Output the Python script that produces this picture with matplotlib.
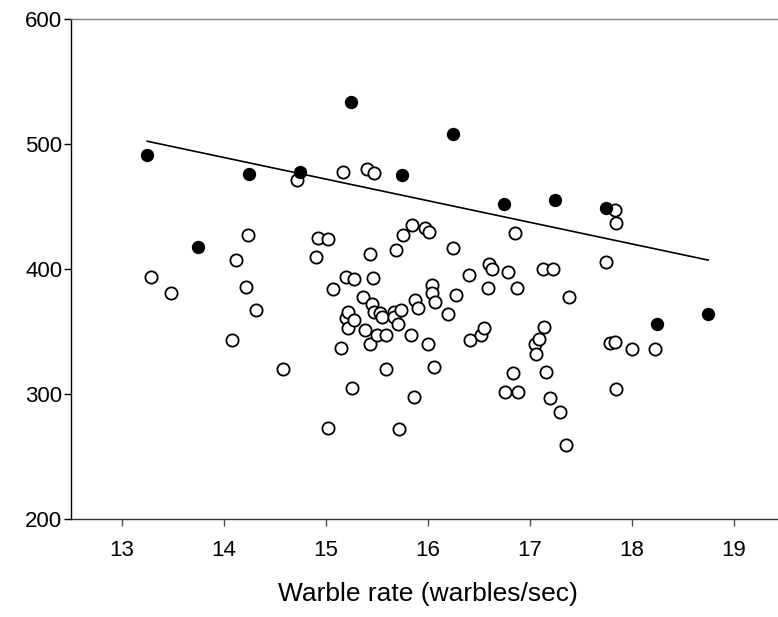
import numpy as np
import matplotlib
matplotlib.use("Agg")
import matplotlib.pyplot as plt

plt.rcParams['font.family'] = ['Liberation Sans', 'DejaVu Sans']

# filled circles (one per half-unit bin) - the regression is fitted on these
filled_x = [13.25, 13.75, 14.25, 14.75, 15.25, 15.75, 16.25, 16.75, 17.25, 17.75, 18.25, 18.75]
filled_y = [491, 418, 476, 478, 534, 475, 508, 452, 455, 449, 356, 364]

# open circles (individual songs)
open_x = [13.29, 13.48, 14.08, 14.12, 14.22, 14.24, 14.32, 14.58, 14.72, 14.90,
          14.92, 15.02, 15.02, 15.07, 15.15, 15.17, 15.20, 15.20, 15.22, 15.22,
          15.26, 15.28, 15.28, 15.37, 15.39, 15.40, 15.43, 15.43, 15.45, 15.46,
          15.47, 15.47, 15.50, 15.53, 15.55, 15.59, 15.59, 15.67, 15.67, 15.69,
          15.71, 15.72, 15.74, 15.76, 15.84, 15.85, 15.87, 15.88, 15.90, 15.97,
          16.00, 16.01, 16.04, 16.04, 16.06, 16.07, 16.20, 16.25, 16.28, 16.40,
          16.41, 16.52, 16.55, 16.59, 16.60, 16.63, 16.76, 16.79, 16.84, 16.86,
          16.88, 16.89, 17.05, 17.06, 17.09, 17.13, 17.14, 17.16, 17.20, 17.23,
          17.30, 17.36, 17.39, 17.75, 17.79, 17.84, 17.84, 17.85, 17.85, 18.00,
          18.23]
open_y = [394, 381, 343, 407, 386, 427, 367, 320, 471, 410,
          425, 273, 424, 384, 337, 478, 394, 361, 366, 353,
          305, 392, 359, 378, 351, 480, 412, 340, 372, 393,
          477, 366, 347, 365, 362, 347, 320, 366, 362, 415,
          356, 272, 367, 427, 347, 435, 298, 375, 369, 433,
          340, 430, 387, 381, 322, 374, 364, 417, 379, 395,
          343, 347, 353, 385, 404, 400, 302, 398, 317, 429,
          385, 302, 340, 332, 344, 400, 354, 318, 297, 400,
          286, 259, 378, 406, 341, 447, 342, 304, 437, 336,
          336]

x_ticks = [13, 14, 15, 16, 17, 18, 19]
y_ticks = [200, 300, 400, 500, 600]

fig = plt.figure(figsize=(7.78, 6.17), dpi=100)
# right edge of the axes runs past the picture, as in the original
ax = fig.add_axes([0.0909, 0.1588, 0.9177, 0.8104])

ax.plot(open_x, open_y, 'o', ms=8.8, mfc='white', mec='black', mew=1.3, zorder=3)
ax.plot(filled_x, filled_y, 'o', ms=9.6, mfc='black', mec='black', mew=0, zorder=4)

slope, icpt = np.polyfit(filled_x, filled_y, 1)
xs = np.array([min(filled_x), max(filled_x)])
ax.plot(xs, slope * xs + icpt, color='black', lw=1.2, zorder=2)

ax.set_xlim(12.5, 19.5)
ax.set_ylim(200, 600)
ax.set_xticks(x_ticks)
ax.set_yticks(y_ticks)

ax.spines['right'].set_visible(False)
ax.spines['top'].set_color('#808080')
ax.spines['left'].set_color('black')
ax.spines['bottom'].set_color('#303030')
for s in ax.spines.values():
    s.set_linewidth(1.0)

ax.tick_params(axis='both', direction='out', length=5, width=1.0, labelsize=16)
ax.tick_params(axis='x', colors='#505050', labelcolor='black', pad=10)
ax.tick_params(axis='y', pad=1)

ax.set_xlabel('Warble rate (warbles/sec)', fontsize=19, labelpad=15)

fig.savefig('out.png', dpi=100)
